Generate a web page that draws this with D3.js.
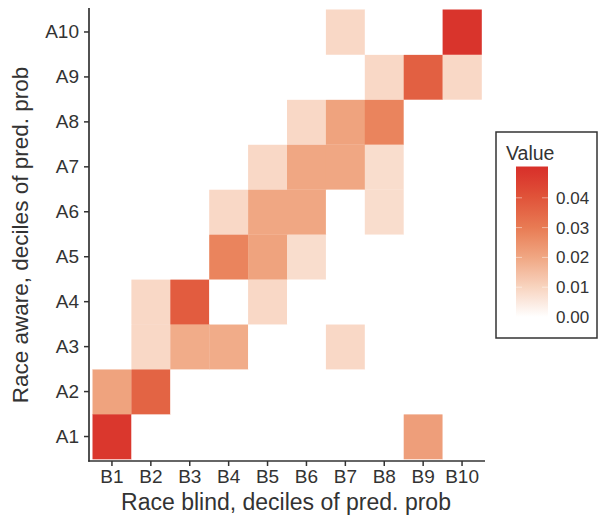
<!DOCTYPE html>
<html>
<head>
<meta charset="utf-8">
<script src="https://cdn.jsdelivr.net/npm/d3@7"></script>
<style>
  html, body { margin: 0; padding: 0; background: #fff; }
  svg { display: block; font-family: "Liberation Sans", Arial, Helvetica, sans-serif; }
</style>
</head>
<body>
<svg id="chart" width="600" height="523"></svg>
<script>
// ---- data ----
const xCats = ["B1","B2","B3","B4","B5","B6","B7","B8","B9","B10"];
const yCats = ["A1","A2","A3","A4","A5","A6","A7","A8","A9","A10"];
// matrix rows: A1..A10, columns: B1..B10
const rowA1  = [0.048, 0, 0, 0, 0, 0, 0, 0, 0.022, 0];
const rowA2  = [0.021, 0.036, 0, 0, 0, 0, 0, 0, 0, 0];
const rowA3  = [0, 0.009, 0.019, 0.019, 0, 0, 0.009, 0, 0, 0];
const rowA4  = [0, 0.009, 0.038, 0, 0.009, 0, 0, 0, 0, 0];
const rowA5  = [0, 0, 0, 0.028, 0.021, 0.008, 0, 0, 0, 0];
const rowA6  = [0, 0, 0, 0.009, 0.02, 0.02, 0, 0.008, 0, 0];
const rowA7  = [0, 0, 0, 0, 0.009, 0.02, 0.02, 0.008, 0, 0];
const rowA8  = [0, 0, 0, 0, 0, 0.009, 0.021, 0.028, 0, 0];
const rowA9  = [0, 0, 0, 0, 0, 0, 0, 0.009, 0.037, 0.009];
const rowA10 = [0, 0, 0, 0, 0, 0, 0.009, 0, 0, 0.049];
const rows = [rowA1,rowA2,rowA3,rowA4,rowA5,rowA6,rowA7,rowA8,rowA9,rowA10];
const legendTicks = [0, 0.01, 0.02, 0.03, 0.04];
const valueMax = 0.0505;
const colorStops = [0, 0.01, 0.02, 0.03, 0.04, 0.05];
const colorRange = ["#ffffff", "#f8d4c0", "#f0a783", "#e87b54", "#e0543a", "#d8302a"];

const cells = [];
rows.forEach((r, i) => r.forEach((v, j) => cells.push({a: yCats[i], b: xCats[j], v})));

// ---- layout ----
const svg = d3.select("#chart");
const x = d3.scaleBand().domain(xCats).range([92.5, 481.5]).padding(0);
const y = d3.scaleBand().domain(yCats).range([459, 9.5]).padding(0);
const color = d3.scaleLinear().domain(colorStops).range(colorRange)
  .interpolate(d3.interpolateRgb).clamp(true);

// tiles
svg.append("g").selectAll("rect").data(cells).join("rect")
  .attr("x", d => x(d.b)).attr("y", d => y(d.a))
  .attr("width", x.bandwidth() + 0.3).attr("height", y.bandwidth() + 0.3)
  .attr("fill", d => color(d.v));

const axisColor = "#333333";
// y axis
const gy = svg.append("g").attr("transform", "translate(89,0)")
  .call(d3.axisLeft(y).tickSize(5).tickSizeOuter(0).tickPadding(5));
gy.select(".domain").remove();
gy.selectAll(".tick line").attr("stroke", axisColor).attr("stroke-width", 1.5);
gy.selectAll(".tick text").attr("font-size", 19).attr("fill", "#333")
  .attr("font-family", "Liberation Sans, Arial, sans-serif");
svg.append("line").attr("x1", 89).attr("x2", 89).attr("y1", 8).attr("y2", 461.8)
  .attr("stroke", axisColor).attr("stroke-width", 1.7);

// x axis
const gx = svg.append("g").attr("transform", "translate(0,461)")
  .call(d3.axisBottom(x).tickSize(5).tickSizeOuter(0).tickPadding(4));
gx.select(".domain").remove();
gx.selectAll(".tick line").attr("stroke", axisColor).attr("stroke-width", 1.5);
gx.selectAll(".tick text").attr("font-size", 19).attr("fill", "#333")
  .attr("font-family", "Liberation Sans, Arial, sans-serif");
svg.append("line").attr("x1", 88.2).attr("x2", 485).attr("y1", 461).attr("y2", 461)
  .attr("stroke", axisColor).attr("stroke-width", 1.7);

// axis titles
svg.append("text").attr("x", 286).attr("y", 510).attr("text-anchor", "middle")
  .attr("font-size", 23).attr("fill", "#333").text("Race blind, deciles of pred. prob");
svg.append("text").attr("transform", "translate(28,235) rotate(-90)").attr("text-anchor", "middle")
  .attr("font-size", 22.5).attr("fill", "#333").text("Race aware, deciles of pred. prob");

// legend
const lg = svg.append("g");
lg.append("rect").attr("x", 496).attr("y", 132).attr("width", 101).attr("height", 206)
  .attr("fill", "#fff").attr("stroke", "#333").attr("stroke-width", 1.5);
lg.append("text").attr("x", 506).attr("y", 160).attr("font-size", 19.5).attr("fill", "#333").text("Value");
const ly = d3.scaleLinear().domain([0, 0.01]).range([317, 287.2]);
const defs = svg.append("defs");
const grad = defs.append("linearGradient").attr("id", "lgrad")
  .attr("x1", 0).attr("x2", 0).attr("y1", 1).attr("y2", 0);
d3.range(0, 1.0001, 0.05).forEach(t => {
  grad.append("stop").attr("offset", t).attr("stop-color", color(t * valueMax));
});
lg.append("rect").attr("x", 516).attr("y", ly(valueMax)).attr("width", 32)
  .attr("height", ly(0) - ly(valueMax)).attr("fill", "url(#lgrad)");
legendTicks.forEach(t => {
  lg.append("line").attr("x1", 516).attr("x2", 522).attr("y1", ly(t)).attr("y2", ly(t))
    .attr("stroke", "#fff").attr("stroke-opacity", 0.45);
  lg.append("line").attr("x1", 542).attr("x2", 548).attr("y1", ly(t)).attr("y2", ly(t))
    .attr("stroke", "#fff").attr("stroke-opacity", 0.45);
});
lg.selectAll("text.lab").data(legendTicks).join("text").attr("class", "lab")
  .attr("x", 556).attr("y", d => ly(d)).attr("dy", "0.35em")
  .attr("font-size", 17).attr("fill", "#333").text(d => d.toFixed(2));
</script>
</body>
</html>
